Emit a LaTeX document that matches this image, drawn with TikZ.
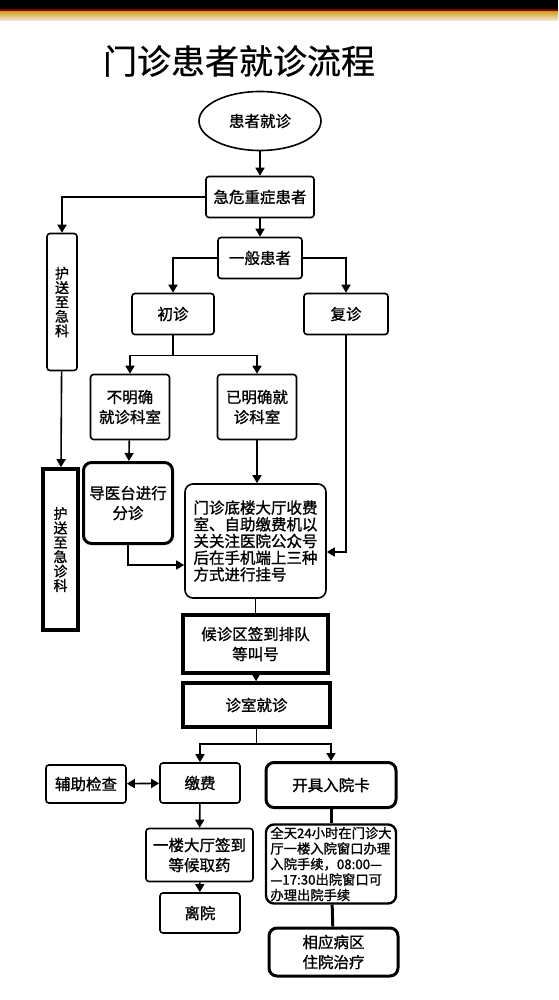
\documentclass[tikz,border=0pt]{standalone}
\usepackage{fontspec}
\setmainfont{Noto Sans CJK SC}[FakeBold=1.2]
\newfontfamily\titlefont{Noto Sans CJK SC}[FakeBold=0.6]
\usetikzlibrary{positioning, arrows.meta, shapes.geometric}
\tikzset{
  box/.style={rectangle, rounded corners=3pt, draw=black, line width=1.6pt,
              fill=white, align=center, inner sep=0pt,
              font=\fontsize{15.5}{20}\selectfont},
  hbox/.style={box, line width=3.6pt, rounded corners=0pt},
  cbox/.style={box, line width=3pt, rounded corners=8pt},
  vbox/.style={box, font=\fontsize{14}{14.4}\selectfont},
  arr/.style={-{Triangle[length=8pt,width=9pt]}, line width=1.6pt},
  darr/.style={{Triangle[length=8pt,width=9pt]}-{Triangle[length=8pt,width=9pt]}, line width=1.6pt},
  ln/.style={line width=1.6pt},
  tln/.style={line width=3pt},
}

\begin{document}
\begin{tikzpicture}[x=1pt, y=-1pt]
    \useasboundingbox (0,0) rectangle (558,1000);
    \fill[white] (0,0) rectangle (558,1000);
    % header band
    \fill[black] (0,0) rectangle (558,9);
    \fill[red!50!black] (0,9) rectangle (558,12);
    \shade[top color=brown!70!yellow, bottom color=brown!15!white] (0,12) rectangle (558,21);
    \node[font=\titlefont\fontsize{34}{40}\selectfont] (title) at (239,61) {门诊患者就诊流程};

    \node[ellipse, draw, line width=1.6pt, minimum width=122pt, minimum height=59pt,
          inner sep=0pt, font=\fontsize{15.5}{20}\selectfont] (start) at (260,121) {患者就诊};
    \node[box, minimum width=108pt, minimum height=41pt] (crit) at (260,197) {急危重症患者};
    \node[vbox, minimum width=30pt, minimum height=137pt] (esc1) at (62,302) {护\\送\\至\\急\\科};
    \node[box, minimum width=84pt, minimum height=41pt] (gen) at (260,258) {一般患者};
    \node[box, minimum width=82pt, minimum height=41pt] (first) at (173,314) {初诊};
    \node[box, minimum width=84pt, minimum height=41pt] (revisit) at (346,314) {复诊};
    \node[box, minimum width=79pt, minimum height=65pt] (unclear) at (130,407) {不明确\\就诊科室};
    \node[box, minimum width=79pt, minimum height=65pt] (clear) at (257,407) {已明确就\\诊科室};
    \node[cbox, minimum width=89pt, minimum height=81pt] (guide) at (128,503) {导医台进行\\分诊};
    \node[hbox, vbox, line width=3.6pt, rounded corners=0pt, minimum width=35pt,
          minimum height=161pt] (esc2) at (60.5,549.5) {护\\送\\至\\急\\诊\\科};
    \node[box, rounded corners=8pt, minimum width=141pt, minimum height=114pt, align=left,
          font=\fontsize{15.5}{16.7}\selectfont] (reg) at (255.5,541)
          {门诊底楼大厅收费\\室、自助缴费机以\\关关注医院公众号\\后在手机端上三种\\方式进行挂号};
    \node[hbox, minimum width=145pt, minimum height=58pt] (wait) at (255.5,644) {候诊区签到排队\\等叫号};
    \node[hbox, minimum width=147pt, minimum height=44pt] (visit) at (256.5,705) {诊室就诊};
    \node[box, minimum width=80pt, minimum height=40pt] (pay) at (200,783) {缴费};
    \node[box, minimum width=80pt, minimum height=38pt] (aux) at (86,784) {辅助检查};
    \node[cbox, minimum width=130pt, minimum height=45pt] (card) at (331,785) {开具入院卡};
    \node[box, minimum width=107pt, minimum height=53pt] (pick) at (199.5,855) {一楼大厅签到\\等候取药};
    \node[box, minimum width=80pt, minimum height=40pt] (leave) at (200,913) {离院};
    \node[box, line width=2.4pt, rounded corners=8pt, minimum width=130pt, minimum height=79pt,
          align=left, font=\fontsize{13.3}{15.5}\selectfont] (admit) at (331,864)
          {全天24小时在门诊大\\厅一楼入院窗口办理\\入院手续，08:00—\\—17:30出院窗口可\\办理出院手续};
    \node[cbox, minimum width=129pt, minimum height=48pt] (ward) at (333.5,952) {相应病区\\住院治疗};

    \coordinate (fork1) at ([yshift=-20pt]first.south);
    \coordinate (fork2) at ([yshift=-15pt]visit.south);

    \draw[arr] (start) -- (crit);
    \draw[arr] (crit.west) -| (esc1.north);
    \draw[arr] (esc1) -- (esc2);
    \draw[arr] (crit) -- (gen);
    \draw[arr] (gen.west) -| (first.north);
    \draw[arr] (gen.east) -| (revisit.north);
    \draw[ln] (first.south) -- (fork1);
    \draw[arr] (fork1) -| (unclear.north);
    \draw[arr] (fork1) -| (clear.north);
    \draw[arr] (unclear) -- (guide);
    \draw[arr] (clear.south) -- (clear.south |- reg.north);
    \draw[arr] (guide.south) |- ([yshift=-24pt]reg.west);
    \draw[arr] (revisit.south) |- ([yshift=-11pt]reg.east);
    \draw[ln] (reg) -- (wait);
    \draw[arr] (wait) -- (visit);
    \draw[ln] (visit.south) -- (fork2);
    \draw[arr] (fork2) -| (pay.north);
    \draw[arr] (fork2) -| (card.north);
    \draw[darr] (aux) -- (pay);
    \draw[arr] (pay) -- (pick);
    \draw[arr] (pick) -- (leave);
    \draw[tln] (card) -- (admit);
    \draw[tln] (admit) -- (ward);
  \end{tikzpicture}
\end{document}
